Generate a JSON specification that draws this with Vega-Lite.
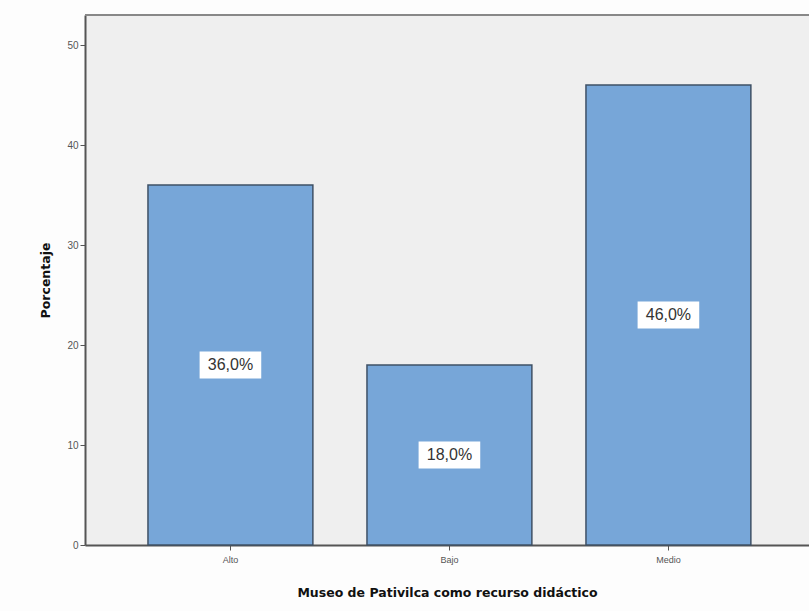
{
  "$schema": "https://vega.github.io/schema/vega-lite/v6.json",
  "autosize": "none",
  "width": 724,
  "height": 530,
  "padding": {"left": 85, "top": 15, "right": 0, "bottom": 66},
  "background": "#fdfdfd",
  "config": {
    "view": {"fill": "#efefef", "stroke": null},
    "font": "Liberation Sans"
  },
  "data": {
    "values": [
      {"nivel": "Alto", "porcentaje": 36.0, "etiqueta": "36,0%"},
      {"nivel": "Bajo", "porcentaje": 18.0, "etiqueta": "18,0%"},
      {"nivel": "Medio", "porcentaje": 46.0, "etiqueta": "46,0%"}
    ]
  },
  "layer": [
    {
      "mark": {"type": "bar", "fill": "#77a6d8", "stroke": "#3f5166", "strokeWidth": 1.5},
      "encoding": {
        "x": {
          "field": "nivel",
          "type": "nominal",
          "sort": ["Alto", "Bajo", "Medio"],
          "scale": {"paddingInner": 0.247, "paddingOuter": 0.2765, "align": 0.52},
          "axis": {
            "title": "Museo de Pativilca como recurso didáctico",
            "titleFont": "DejaVu Sans",
            "titleFontSize": 12.5,
            "titleFontWeight": "bold",
            "titleColor": "#111",
            "titlePadding": 22,
            "labelAngle": 0,
            "labelFontSize": 9,
            "labelColor": "#555",
            "labelPadding": 5,
            "domainColor": "#555",
            "domainWidth": 2,
            "tickColor": "#555",
            "tickSize": 5
          }
        },
        "y": {
          "field": "porcentaje",
          "type": "quantitative",
          "scale": {"domain": [0, 53], "nice": false},
          "axis": {
            "title": "Porcentaje",
            "titleFont": "DejaVu Sans",
            "titleFontSize": 12.5,
            "titleFontWeight": "bold",
            "titleColor": "#111",
            "titlePadding": 14,
            "values": [0, 10, 20, 30, 40, 50],
            "labelFontSize": 10,
            "labelColor": "#555",
            "grid": false,
            "domainColor": "#555",
            "domainWidth": 2,
            "tickColor": "#555",
            "tickSize": 5
          }
        }
      }
    },
    {
      "mark": {"type": "rule", "color": "#888", "strokeWidth": 2},
      "encoding": {"y": {"datum": 53}}
    },
    {
      "transform": [{"calculate": "datum.porcentaje / 2", "as": "medio"}],
      "mark": {"type": "point", "shape": "M-1,-0.44H1V0.44H-1Z", "size": 3800, "filled": true, "fill": "#ffffff", "opacity": 1, "strokeWidth": 0},
      "encoding": {
        "x": {"field": "nivel", "type": "nominal", "sort": ["Alto", "Bajo", "Medio"]},
        "y": {"field": "medio", "type": "quantitative"}
      }
    },
    {
      "transform": [{"calculate": "datum.porcentaje / 2", "as": "medio"}],
      "mark": {"type": "text", "fontSize": 16, "color": "#333", "baseline": "middle", "align": "center"},
      "encoding": {
        "x": {"field": "nivel", "type": "nominal", "sort": ["Alto", "Bajo", "Medio"]},
        "y": {"field": "medio", "type": "quantitative"},
        "text": {"field": "etiqueta"}
      }
    }
  ]
}
